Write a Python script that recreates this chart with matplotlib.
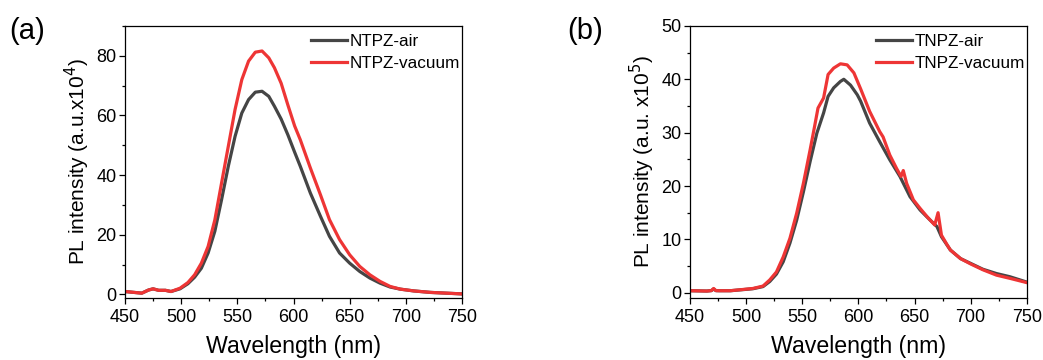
import matplotlib
matplotlib.use("Agg")
import matplotlib.pyplot as plt
from matplotlib.ticker import MultipleLocator

plt.rcParams['font.family'] = ['Liberation Sans', 'DejaVu Sans']

# ---- (a) NTPZ spectra, intensity in units of 1e4 ----
wl_a = [450, 465, 471, 475, 480, 486, 491, 499, 506, 512, 518, 524, 530, 536,
        542, 548, 554, 560, 566, 572, 578, 583, 589, 595, 601, 606, 615, 624,
        632, 641, 650, 659, 668, 677, 686, 695, 707, 722, 736, 750]
ntpz_vac = [1.0, 0.45, 1.5, 1.9, 1.4, 1.4, 1.0, 2.1, 4.0, 6.6, 10.5, 16.1, 25.0, 37.4,
            49.7, 62.0, 72.0, 78.2, 81.2, 81.6, 79.3, 76.0, 70.8, 63.5, 56.5, 51.9, 42.4, 33.4,
            25.1, 18.4, 13.3, 9.4, 6.6, 4.4, 2.7, 1.8, 1.2, 0.7, 0.45, 0.2]
ntpz_air = [1.0, 0.45, 1.5, 1.9, 1.4, 1.4, 1.0, 1.9, 3.6, 5.8, 8.8, 13.9, 21.2, 31.8,
            43.0, 53.0, 60.8, 65.3, 67.8, 68.1, 66.4, 63.1, 58.8, 53.5, 47.7, 43.0, 34.0, 26.2,
            19.5, 13.9, 10.5, 7.7, 5.5, 3.8, 2.5, 1.8, 1.2, 0.7, 0.45, 0.2]

# ---- (b) TNPZ spectra, intensity in units of 1e5 ----
wl_b_vac = [450, 465, 469, 471, 473, 476, 486, 498, 506, 515, 521, 527, 533, 539,
            545, 551, 557, 561, 564, 569, 573, 578, 584, 590, 596, 602, 610, 619,
            622, 628, 634, 638, 640, 643, 649, 655, 661, 668, 671, 674, 679, 682,
            691, 700, 711, 723, 735, 750]
tnpz_vac = [0.38, 0.32, 0.4, 0.8, 0.4, 0.38, 0.38, 0.63, 0.8, 1.25, 2.4, 3.9, 6.7, 10.2,
            14.9, 20.5, 26.8, 31.2, 34.6, 36.5, 40.9, 42.1, 42.9, 42.7, 41.2, 38.2, 34.0, 30.2,
            29.2, 25.8, 23.3, 21.8, 22.9, 20.5, 17.4, 15.8, 14.3, 12.7, 15.0, 10.8, 9.0, 8.0,
            6.4, 5.4, 4.3, 3.3, 2.7, 1.9]
wl_b_air = [450, 465, 469, 471, 473, 476, 486, 498, 506, 515, 521, 527, 533, 539,
            545, 551, 557, 563, 569, 573, 578, 584, 587, 593, 599, 602, 610, 619,
            628, 637, 646, 655, 664, 670, 674, 682, 691, 700, 711, 723, 735, 750]
tnpz_air = [0.38, 0.32, 0.4, 0.7, 0.4, 0.38, 0.38, 0.6, 0.75, 1.15, 2.1, 3.5, 5.8, 9.3,
            13.6, 18.9, 24.6, 29.9, 33.7, 36.8, 38.4, 39.6, 40.0, 38.9, 37.1, 35.9, 31.8, 28.3,
            24.9, 21.8, 18.0, 15.5, 13.6, 12.4, 10.5, 8.0, 6.4, 5.5, 4.4, 3.6, 3.0, 2.0]

xticks = [450, 500, 550, 600, 650, 700, 750]
GRAY = '#454545'
RED = '#ee3535'

fig = plt.figure(figsize=(10.43, 3.60), dpi=100)
ax_a = fig.add_axes([0.1198, 0.172, 0.3232, 0.756])
ax_b = fig.add_axes([0.6616, 0.172, 0.3228, 0.756])


def style(ax, ylim, ymajor, yminor, ylabel):
    ax.set_xlim(450, 750)
    ax.set_ylim(*ylim)
    ax.set_xticks(xticks)
    ax.xaxis.set_minor_locator(MultipleLocator(25))
    ax.yaxis.set_major_locator(MultipleLocator(ymajor))
    ax.yaxis.set_minor_locator(MultipleLocator(yminor))
    ax.tick_params(which='both', direction='out', top=False, right=False,
                   labelsize=13, width=0.9, colors='black')
    ax.tick_params(which='major', length=4, pad=2)
    ax.tick_params(axis='x', which='major', pad=4)
    ax.tick_params(which='minor', length=2.5)
    for sp in ax.spines.values():
        sp.set_linewidth(0.9)
    ax.set_xlabel('Wavelength (nm)', fontsize=16.7, labelpad=6)
    ax.set_ylabel(ylabel, fontsize=15, labelpad=3)
    ax.legend(loc='upper right', bbox_to_anchor=(1.01, 0.99), frameon=False,
              fontsize=12.3, handlelength=2.1, handletextpad=0.15,
              borderaxespad=0.0, borderpad=0.3, labelspacing=0.4)


ax_a.plot(wl_a, ntpz_air, color=GRAY, lw=2.3, label='NTPZ-air')
ax_a.plot(wl_a, ntpz_vac, color=RED, lw=2.3, label='NTPZ-vacuum')
style(ax_a, (-1.2, 90), 20, 10, 'PL intensity (a.u.x10$^{4}$)')

ax_b.plot(wl_b_air, tnpz_air, color=GRAY, lw=2.3, label='TNPZ-air')
ax_b.plot(wl_b_vac, tnpz_vac, color=RED, lw=2.3, label='TNPZ-vacuum')
style(ax_b, (-1.0, 50), 10, 5, 'PL intensity (a.u. x10$^{5}$)')

fig.text(0.009, 0.915, '(a)', fontsize=21, va='center', ha='left')
fig.text(0.544, 0.915, '(b)', fontsize=21, va='center', ha='left')

fig.savefig('out.png', dpi=100)
